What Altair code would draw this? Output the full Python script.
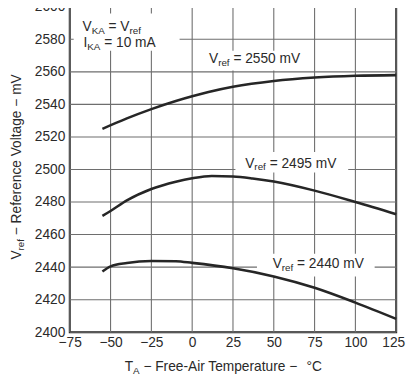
import altair as alt
import pandas as pd

# ---- data ----
temps_2550 = [-55, -40, -25, -10, 0, 10, 25, 50, 75, 100, 125]
vref_2550 = [2525, 2531.4, 2537.1, 2542.1, 2545, 2547.6, 2550.8, 2554.4, 2556.5, 2557.6, 2558]

temps_2495 = [-55, -50, -40, -25, -10, 0, 12, 25, 37, 50, 75, 100, 125]
vref_2495 = [2471.5, 2474.5, 2481, 2488, 2492.5, 2494.6, 2496, 2495.7, 2494.5, 2492.6, 2487, 2480, 2472.5]

temps_2440 = [-55, -50, -40, -25, -10, 0, 25, 50, 75, 100, 125]
vref_2440 = [2437.3, 2440.5, 2442.6, 2443.8, 2443.6, 2442.6, 2439.3, 2434.3, 2427.3, 2418.2, 2408.2]

x_ticks = [-75, -50, -25, 0, 25, 50, 75, 100, 125]
y_ticks = [2400, 2420, 2440, 2460, 2480, 2500, 2520, 2540, 2560, 2580, 2600]

# annotation anchors (data coordinates): start T, baseline mV, pieces (text, is_subscript)
annotations = [
    (-67.2, 2585.2, [("V", 0), ("KA", 1), (" = V", 0), ("ref", 1)]),
    (-66.6, 2575.0, [("I", 0), ("KA", 1), (" = 10 mA", 0)]),
    (10.3, 2565.2, [("V", 0), ("ref", 1), (" = 2550 mV", 0)]),
    (32.5, 2501.2, [("V", 0), ("ref", 1), (" = 2495 mV", 0)]),
    (49.3, 2439.2, [("V", 0), ("ref", 1), (" = 2440 mV", 0)]),
]
# white label boxes: T1, T2, mV1, mV2
boxes_t1 = [-72.6, 3.7, 26.5, 39.7]
boxes_t2 = [-7.7, 73.3, 95.6, 111.8]
boxes_v1 = [2595.8, 2572.9, 2510.8, 2448.2]
boxes_v2 = [2572.9, 2560.8, 2498.2, 2434.3]

# ---- layout ----
W_PLOT, H_PLOT = 333, 332
PX_T = W_PLOT / 200.0
PX_V = H_PLOT / 200.0
FONT = "Liberation Sans, Arial, sans-serif"
MAIN, SUB = 14, 10
TXT = "#2a2a2a"
GRID = "#6e6e6e"
HALF_T = 0.55 / PX_T   # half of a ~1.1px grid line in data units
HALF_V = 0.55 / PX_V

CW = {' ': 278, '=': 584, '−': 584, '-': 333, 'V': 667, 'K': 667, 'A': 667, 'I': 278,
      'm': 833, 'r': 333, 'e': 556, 'f': 278, 'T': 611, 'F': 611, 'i': 222, 'p': 556,
      'a': 556, 't': 278, 'u': 556, '°': 400, 'C': 722, 'R': 722, 'n': 556, 'c': 500,
      'o': 556, 'l': 222, 'g': 556}


def tw(s, size):
    return sum(CW.get(ch, 556) for ch in s) * size / 1000.0


main_rows, sub_rows = [], []
for t0, v0, pieces in annotations:
    cur = 0.0
    for text, sub in pieces:
        size = SUB if sub else MAIN
        lead = len(text) - len(text.lstrip())
        cur += tw(" " * lead, size)
        t = text.lstrip()
        row = {"T": t0 + cur / PX_T, "mV": v0 - (3.0 / PX_V if sub else 0.0), "txt": t}
        (sub_rows if sub else main_rows).append(row)
        cur += tw(t, size)

curves = pd.concat([
    pd.DataFrame({"T": temps_2550, "mV": vref_2550, "s": "2550"}),
    pd.DataFrame({"T": temps_2495, "mV": vref_2495, "s": "2495"}),
    pd.DataFrame({"T": temps_2440, "mV": vref_2440, "s": "2440"}),
])
boxes = pd.DataFrame({"t1": boxes_t1, "t2": boxes_t2, "v1": boxes_v1, "v2": boxes_v2})

# grid lines drawn as thin filled rectangles through the data scales
vgrid_df = pd.DataFrame({"a1": [t - HALF_T for t in x_ticks], "a2": [t + HALF_T for t in x_ticks],
                         "b1": y_ticks[0], "b2": y_ticks[-1]})
hgrid_df = pd.DataFrame({"a1": x_ticks[0], "a2": x_ticks[-1],
                         "b1": [v - HALF_V for v in y_ticks], "b2": [v + HALF_V for v in y_ticks]})
grid_df = pd.concat([vgrid_df, hgrid_df], ignore_index=True)

xs = alt.Scale(domain=[-75, 125], nice=False, zero=False)
ys = alt.Scale(domain=[2400, 2600], nice=False, zero=False)
common = dict(title=None, grid=False, ticks=False, domain=False, labelOverlap=False,
              labelFlush=False, labelFontSize=MAIN, labelFont=FONT, labelColor=TXT, format="d")
xax = alt.Axis(values=x_ticks, labelPadding=4,
               labelOffset=alt.condition("datum.value == 125", alt.value(-3), alt.value(0)),
               **common)
yax = alt.Axis(values=y_ticks, labelPadding=5, **common)


def X(f):
    return alt.X(f, type="quantitative", scale=xs, axis=xax)


def Y(f):
    return alt.Y(f, type="quantitative", scale=ys, axis=yax)


grid = alt.Chart(grid_df).mark_rect(fill=GRID, strokeWidth=0).encode(
    x=X("a1"), x2="a2", y=Y("b1"), y2="b2")

rects = alt.Chart(boxes).mark_rect(fill="white", strokeWidth=0).encode(
    x=X("t1"), x2="t2", y=Y("v1"), y2="v2")

lines = alt.Chart(curves).mark_line(color="#262626", strokeWidth=2.6, interpolate="monotone").encode(
    x=X("T"), y=Y("mV"), detail="s:N")

ann_main = alt.Chart(pd.DataFrame(main_rows)).mark_text(
    align="left", baseline="alphabetic", font=FONT, fontSize=MAIN, color=TXT).encode(
    x=X("T"), y=Y("mV"), text="txt:N")
ann_sub = alt.Chart(pd.DataFrame(sub_rows)).mark_text(
    align="left", baseline="alphabetic", font=FONT, fontSize=SUB, color=TXT).encode(
    x=X("T"), y=Y("mV"), text="txt:N")

one = pd.DataFrame({"a": [0]})


def label(text, x, y, size, angle=0):
    m = alt.Chart(one).mark_text(align="left", baseline="alphabetic", font=FONT,
                                 fontSize=size, color=TXT, angle=angle)
    return m.encode(x=alt.value(x), y=alt.value(y), text=alt.value(text))


# x axis title: T_A − Free-Air Temperature −  °C
xt0, xb = 56, 372
xparts = []
cx = xt0
xparts.append(label("T", cx, xb, MAIN)); cx += tw("T", MAIN)
xparts.append(label("A", cx, xb + 3, SUB)); cx += tw("A", SUB) + tw(" ", MAIN)
s = "− Free-Air Temperature −"
xparts.append(label(s, cx, xb, MAIN)); cx += tw(s, MAIN) + tw("  ", MAIN)
xparts.append(label("°C", cx, xb, MAIN))

# y axis title (rotated): V_ref − Reference Voltage − mV
ytl = tw("V", MAIN) + tw("ref", SUB) + tw(" − Reference Voltage − mV", MAIN)
yb = -50
cy = H_PLOT / 2 + ytl / 2 - 3
yparts = []
yparts.append(label("V", yb, cy, MAIN, 270)); cy -= tw("V", MAIN)
yparts.append(label("ref", yb + 3, cy, SUB, 270)); cy -= tw("ref", SUB) + tw(" ", MAIN)
yparts.append(label("− Reference Voltage − mV", yb, cy, MAIN, 270))

chart = alt.layer(grid, rects, lines, ann_main, ann_sub, *xparts, *yparts).properties(
    width=W_PLOT, height=H_PLOT,
    background="white",
    autosize=alt.AutoSizeParams(type="none"),
    padding={"left": 63, "top": -5, "right": 10, "bottom": 44},
).configure_axis(
    grid=False, labelFontSize=MAIN, labelFont=FONT, labelColor=TXT, ticks=False, domain=False,
).configure_view(stroke="#1a1a1a", strokeWidth=2)

chart.save("out.html", embed_options={"renderer": "svg", "actions": False})
